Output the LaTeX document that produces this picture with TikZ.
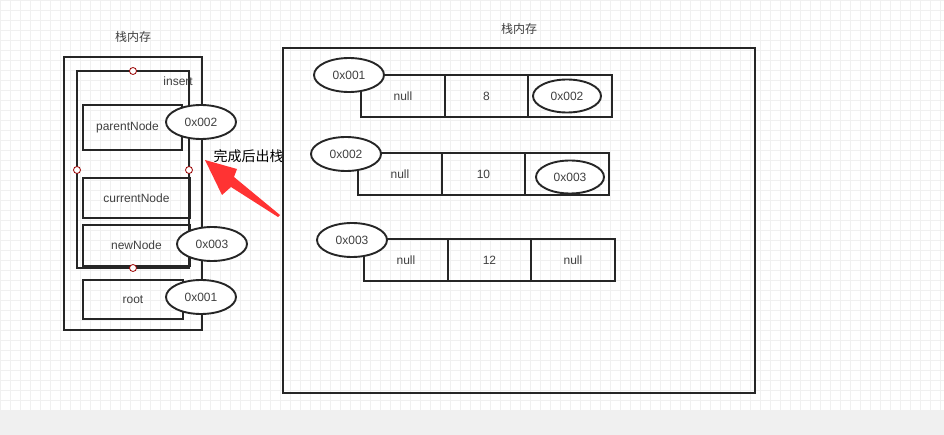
\documentclass[tikz,border=0pt]{standalone}
\usepackage{fontspec}
\setmainfont{Liberation Sans}
\newfontfamily\cjk{Noto Sans CJK SC}
\usetikzlibrary{arrows.meta,shapes.geometric}
\begin{document}
\begin{tikzpicture}[x=1pt,y=-1pt,
  box/.style={draw=black!85,line width=1.9pt},
  cell/.style={draw=black!85,line width=1.9pt,minimum height=42pt,anchor=north west,font=\fontsize{12}{14}\selectfont,text=black!75,inner sep=0pt},
  addr/.style={ellipse,draw=black!85,line width=1.9pt,fill=white,minimum width=70pt,minimum height=34pt,inner sep=0pt,font=\fontsize{12}{14}\selectfont,text=black!75},
  lbl/.style={font=\fontsize{12}{14}\selectfont,text=black!75},
  pin/.style={circle,draw=red!60!black,fill=white,minimum size=7pt,inner sep=0pt,line width=0.8pt}]
\useasboundingbox (0,0) rectangle (944,435);
\fill[white] (0,0) rectangle (944,410);
\draw[black!6,line width=0.5pt,step=10pt] (0,0) grid (944,410);
\fill[black!6] (0,410) rectangle (944,435);
% left stack
\node[lbl] (t1) at (133,37) {\cjk 栈内存};
\draw[box] (64,57) rectangle (202,330);
\draw[box] (77,71) rectangle (189,268);
\node[lbl,anchor=east,inner sep=0pt] (ins) at (193,81) {insert};
\node[box,lbl,minimum width=99pt,minimum height=45pt,anchor=north west] (pn) at (82,104) {parentNode\hspace*{10pt}};
\node[box,lbl,minimum width=107pt,minimum height=40pt,anchor=north west] (cn) at (82,177) {currentNode};
\node[box,lbl,minimum width=107pt,minimum height=41pt,anchor=north west] (nn) at (82,224) {newNode};
\node[box,lbl,minimum width=100pt,minimum height=39pt,anchor=north west] (rt) at (82,279) {root};
\node[addr] (e1) at (201,122) {0x002};
\node[addr] (e2) at (212,244) {0x003};
\node[addr] (e3) at (201,297) {0x001};
\node[pin] (p1) at (133,71) {};
\node[pin] (p2) at (77,170) {};
\node[pin] (p3) at (189,170) {};
\node[pin] (p4) at (133,268) {};
% arrow
\node[font=\fontsize{14}{16}\selectfont,anchor=west] (done) at (210,156) {\cjk 完成后出栈};
\coordinate (as) at (280,215);
\coordinate (ae) at (205,160);
\fill[red!80!white] (as) -- (278,217) -- (231,187) -- (222,195) -- (ae) -- (237,169) -- (234,177) -- cycle;
% right heap
\node[lbl] (t2) at (519,29) {\cjk 栈内存};
\draw[box] (283,48) rectangle (755,393);
\foreach \r/\x/\y/\a/\b/\c in {1/360/74/null/8/{},2/357/152/null/10/{},3/363/238/null/12/null}{
  \node[cell,minimum width=84pt] (r\r a) at (\x,\y) {\a};
  \node[cell,minimum width=83pt] (r\r b) at (\x+84,\y) {\b};
  \node[cell,minimum width=84pt] (r\r c) at (\x+167,\y) {\c};
}
\node[addr] (h1) at (349,75) {0x001};
\node[addr,minimum width=68pt,minimum height=33pt] (h1n) at (567,96) {0x002};
\node[addr] (h2) at (346,154) {0x002};
\node[addr,minimum width=68pt,minimum height=33pt] (h2n) at (570,177) {0x003};
\node[addr] (h3) at (352,240) {0x003};
\end{tikzpicture}
\end{document}
